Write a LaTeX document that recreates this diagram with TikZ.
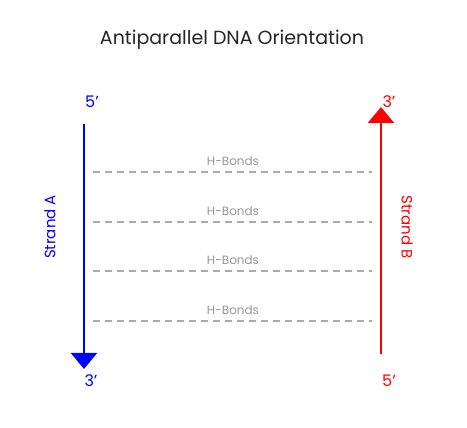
\documentclass[tikz,border=0pt]{standalone}
\usepackage{fontspec}
\setmainfont{Poppins}
\usetikzlibrary{arrows.meta}
\definecolor{bondgray}{RGB}{170,170,170}
\definecolor{labelgray}{RGB}{150,150,150}
\newcommand{\prm}{\char"0027}
\begin{document}
\begin{tikzpicture}[x=1pt, y=-1pt,
  strand/.style={line width=2pt, -{Triangle[length=16pt, width=26pt]}},
  hbond/.style={draw=bondgray, line width=1.8pt, dash pattern=on 7pt off 5pt},
  bondlabel/.style={font=\fontsize{12}{14}\selectfont, text=labelgray, anchor=base},
  endlabel/.style={font=\fontsize{16}{18}\selectfont, anchor=base}]
% Set the canvas to the reference size
\useasboundingbox (0,0) rectangle (467,428);

% Title
\node[font=\fontsize{19}{22}\selectfont, text=black!85] (title) at (232,40) {Antiparallel DNA Orientation};

% Strand A (blue, runs downwards)
\coordinate (Atop) at (84,124);
\coordinate (Abot) at (84,369);
\draw[strand, blue] (Atop) -- (Abot);
\node[endlabel, blue] (A5) at (92,108) {5\prm};
\node[endlabel, blue] (A3) at (91,387) {3\prm};
\node[font=\fontsize{15}{18}\selectfont, blue, rotate=90] (Alabel) at (50,227) {Strand A};

% Strand B (red, runs upwards)
\coordinate (Bbot) at (381,354);
\coordinate (Btop) at (381,107);
\draw[strand, red] (Bbot) -- (Btop);
\node[endlabel, red] (B3) at (389,108) {3\prm};
\node[endlabel, red] (B5) at (389,387) {5\prm};
\node[font=\fontsize{15}{18}\selectfont, red, rotate=-90] (Blabel) at (407,227) {Strand B};

% Hydrogen bonds between the strands
\coordinate (h1l) at (93,172);
\coordinate (h1r) at (372,172);
\draw[hbond] (h1l) -- (h1r);
\node[bondlabel] (b1) at (233,166) {H-Bonds};
\coordinate (h2l) at (93,222);
\coordinate (h2r) at (372,222);
\draw[hbond] (h2l) -- (h2r);
\node[bondlabel] (b2) at (233,216) {H-Bonds};
\coordinate (h3l) at (93,271);
\coordinate (h3r) at (372,271);
\draw[hbond] (h3l) -- (h3r);
\node[bondlabel] (b3) at (233,265) {H-Bonds};
\coordinate (h4l) at (93,321);
\coordinate (h4r) at (372,321);
\draw[hbond] (h4l) -- (h4r);
\node[bondlabel] (b4) at (233,315) {H-Bonds};
\end{tikzpicture}
\end{document}
